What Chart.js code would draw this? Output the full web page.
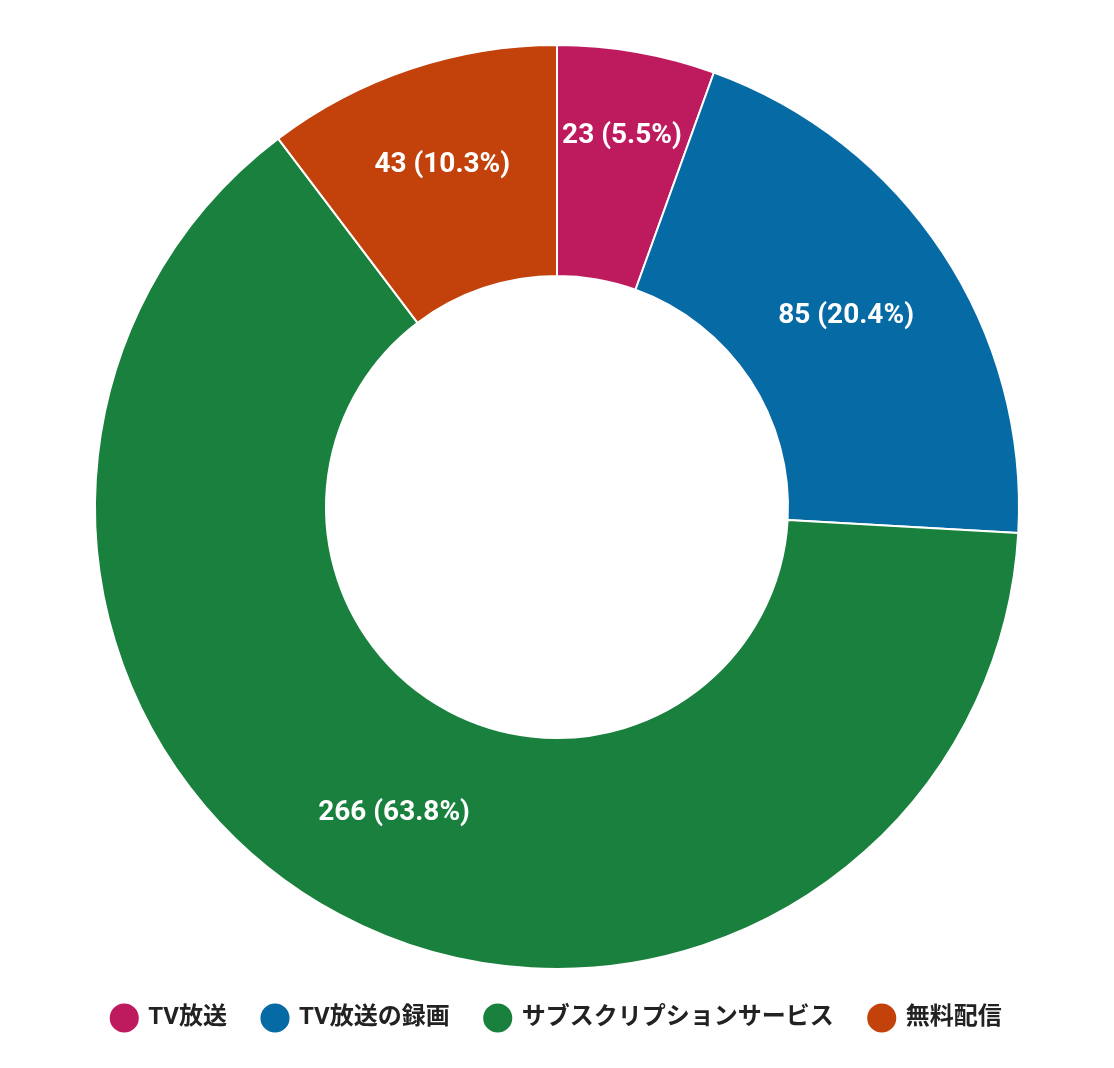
<!DOCTYPE html>
<html>
<head>
<meta charset="utf-8">
<script src="https://cdn.jsdelivr.net/npm/chart.js@4"></script>
<style>
  html, body { margin: 0; padding: 0; background: #fff; }
  #wrap { width: 1114px; height: 1068px; }
</style>
</head>
<body>
<div id="wrap"><canvas id="chart"></canvas></div>
<script>
// 視聴方法の内訳
const categories = ['TV放送', 'TV放送の録画', 'サブスクリプションサービス', '無料配信'];
const counts = [23, 85, 266, 43];
const sliceColors = ['#BE1A5E', '#066AA4', '#1A803E', '#C3410A'];

const FONT = "Roboto, 'Noto Sans CJK JP', sans-serif";

// スライス内に「件数 (割合%)」を描く
const sliceLabels = {
    id: 'sliceLabels',
    afterDatasetsDraw(chart) {
        const ctx = chart.ctx;
        const meta = chart.getDatasetMeta(0);
        const data = chart.data.datasets[0].data;
        const total = data.reduce((a, b) => a + b, 0);
        ctx.save();
        ctx.font = 'bold 28px ' + FONT;
        ctx.fillStyle = '#fff';
        ctx.textAlign = 'center';
        ctx.textBaseline = 'middle';
        meta.data.forEach((arc, i) => {
            const p = arc.getProps(['x', 'y', 'startAngle', 'endAngle', 'innerRadius', 'outerRadius'], true);
            const mid = (p.startAngle + p.endAngle) / 2;
            // 細いスライスは少し外側へ
            const share = data[i] / total;
            const frac = share < 0.15 ? (share < 0.08 ? 0.63 : 0.56) : 0.5;
            const r = p.innerRadius + (p.outerRadius - p.innerRadius) * frac;
            const text = data[i] + ' (' + (share * 100).toFixed(1) + '%)';
            ctx.fillText(text, p.x + Math.cos(mid) * r, p.y + Math.sin(mid) * r);
        });
        ctx.restore();
    }
};

new Chart(document.getElementById('chart'), {
    type: 'doughnut',
    data: {
        labels: categories,
        datasets: [{
            data: counts,
            backgroundColor: sliceColors,
            borderColor: '#fff',
            borderWidth: 2,
            hoverOffset: 0
        }]
    },
    options: {
        responsive: true,
        maintainAspectRatio: false,
        animation: false,
        cutout: '50%',
        layout: { padding: { top: 44, bottom: 28 } },
        plugins: {
            legend: {
                position: 'bottom',
                labels: {
                    usePointStyle: true,
                    pointStyle: 'circle',
                    boxWidth: 24,
                    boxHeight: 22,
                    padding: 36,
                    color: '#222',
                    font: { family: FONT, size: 24, weight: 'bold' }
                }
            },
            tooltip: { enabled: false }
        }
    },
    plugins: [sliceLabels]
});
</script>
</body>
</html>
